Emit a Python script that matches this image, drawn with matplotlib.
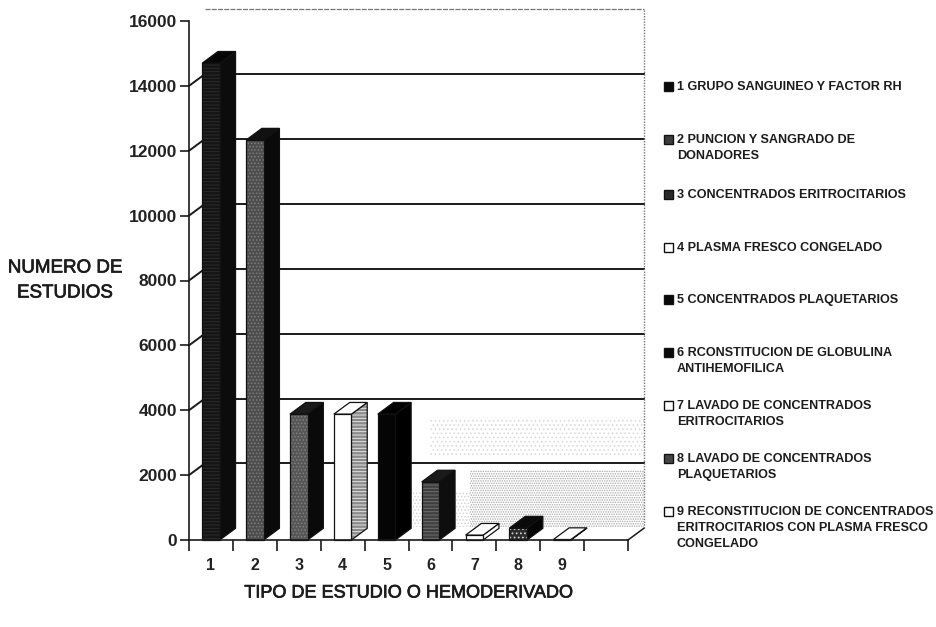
import matplotlib
matplotlib.use('Agg')
import matplotlib.pyplot as plt
import matplotlib.patheffects as pe
from matplotlib.patches import Polygon, Rectangle

plt.rcParams['font.family'] = ['Liberation Sans', 'DejaVu Sans']
plt.rcParams['hatch.linewidth'] = 0.7

# number of studies per type
categories = [1, 2, 3, 4, 5, 6, 7, 8, 9]
valores = [14700, 12330, 3880, 3880, 3880, 1790, 150, 370, 15]
yticks = [0, 2000, 4000, 6000, 8000, 10000, 12000, 14000, 16000]

# front, side, top colours and the hatch for each bar (hatch colour, pattern)
front_cols = ['#141414', '#4e4e4e', '#565656', '#ffffff', '#050505', '#404040', '#ffffff', '#2c2c2c', '#ffffff']
side_cols = ['#0c0c0c', '#0a0a0a', '#0a0a0a', '#8a8a8a', '#000000', '#0e0e0e', '#ffffff', '#050505', '#ffffff']
top_cols = ['#050505', '#111111', '#1a1a1a', '#ffffff', '#000000', '#1a1a1a', '#ffffff', '#0a0a0a', '#ffffff']
front_hatch = [('#2c2c2c', '-----'), ('#7c7c7c', '.....'), ('#808080', '.....'), None, None,
               ('#6e6e6e', '-----'), None, ('#d8d8d8', '....'), None]
side_hatch = [None, None, None, ('#e4e4e4', '-----'), None, None, None, None, None]

legend_items = [
    ['1 GRUPO SANGUINEO Y FACTOR RH'],
    ['2 PUNCION Y SANGRADO DE', 'DONADORES'],
    ['3 CONCENTRADOS ERITROCITARIOS'],
    ['4 PLASMA FRESCO CONGELADO'],
    ['5 CONCENTRADOS PLAQUETARIOS'],
    ['6 RCONSTITUCION DE GLOBULINA', 'ANTIHEMOFILICA'],
    ['7 LAVADO DE CONCENTRADOS', 'ERITROCITARIOS'],
    ['8 LAVADO DE CONCENTRADOS', 'PLAQUETARIOS'],
    ['9 RECONSTITUCION DE CONCENTRADOS', 'ERITROCITARIOS CON PLASMA FRESCO', 'CONGELADO'],
]
legend_y = [87, 140, 195, 248, 300, 353, 406, 459, 512]
legend_cols = ['#0a0a0a', '#3c3c3c', '#2a2a2a', '#ffffff', '#0a0a0a', '#0a0a0a', '#ffffff', '#444444', '#ffffff']

W, H = 937, 627
fig = plt.figure(figsize=(W / 100, H / 100), dpi=100)
ax = fig.add_axes([189 / W, 1 - 540 / H, 439 / W, 519 / H])
ax.set_xlim(0.5, 10.5)
ax.set_ylim(0, 16000)

# depth of the fake 3d box
dx = 0.36
dy = 360
line_col = '#1a1a1a'

# stippled patches on the back wall
stipple = [
    (5.6, 6.9, 400, 1500, '#d4d4d4', '.....'),
    (6.9, 10.5 + dx, 400, 2150, '#a8a8a8', '.......'),
    (6.0, 10.5 + dx, 2550, 3800, '#dadada', '....'),
]
for x0, x1, y0, y1, col, hatch in stipple:
    ax.add_patch(Polygon([(x0, y0), (x1, y0), (x1, y1), (x0, y1)], closed=True,
                         facecolor='white', edgecolor=col, hatch=hatch, lw=0, zorder=1, clip_on=False))

# back wall gridlines and the slanted joins to the axis
for v in yticks[1:-1]:
    ax.plot([0.5 + dx, 10.5 + dx], [v + dy, v + dy], color=line_col, lw=1.4, zorder=2, clip_on=False)
    ax.plot([0.5, 0.5 + dx], [v, v + dy], color=line_col, lw=1.4, zorder=2, clip_on=False)
top = 16000 + dy
ax.plot([0.5 + dx, 10.5 + dx], [top, top], color='#777777', lw=0.9, ls=(0, (4, 1)), zorder=2, clip_on=False)
ax.plot([10.5 + dx, 10.5 + dx], [dy, top], color='#777777', lw=1.0, ls=(0, (1, 1)), zorder=2, clip_on=False)
ax.plot([10.5, 10.5 + dx], [0, dy], color=line_col, lw=1.1, zorder=2, clip_on=False)

# bars: front face, side face and top face
w = 0.2
for i, (c, v) in enumerate(zip(categories, valores)):
    faces = [
        ([(c + w, 0), (c + w + dx, dy), (c + w + dx, v + dy), (c + w, v)], side_cols[i], side_hatch[i]),
        ([(c - w, v), (c + w, v), (c + w + dx, v + dy), (c - w + dx, v + dy)], top_cols[i], None),
        ([(c - w, 0), (c + w, 0), (c + w, v), (c - w, v)], front_cols[i], front_hatch[i]),
    ]
    for pts, col, hatch in faces:
        ax.add_patch(Polygon(pts, closed=True, facecolor=col, edgecolor='none', lw=0, zorder=3, clip_on=False))
        if hatch is not None:
            ax.add_patch(Polygon(pts, closed=True, fill=False, edgecolor=hatch[0], hatch=hatch[1], lw=0,
                                 zorder=3, clip_on=False))
        ax.add_patch(Polygon(pts, closed=True, fill=False, edgecolor='#111111', lw=0.9, zorder=3, clip_on=False))

for side in ['top', 'right']:
    ax.spines[side].set_visible(False)
for side in ['left', 'bottom']:
    ax.spines[side].set_linewidth(1.2)
    ax.spines[side].set_color(line_col)
    ax.spines[side].set_zorder(5)

ax.set_yticks(yticks)
ax.set_yticklabels([str(v) for v in yticks], fontsize=12.5, fontweight='bold', color='#222222')
ax.tick_params(axis='y', length=6.5, width=1.2, pad=2, color=line_col)
ax.set_xticks(categories)
ax.set_xticklabels([str(c) for c in categories], fontsize=11.5, fontweight='bold', color='#222222')
ax.set_xticks([c - 0.5 for c in categories] + [9.5, 10.5], minor=True)
ax.tick_params(axis='x', which='major', length=0, pad=13)
ax.tick_params(axis='x', which='minor', length=8, width=1.2, color=line_col)

# axis titles, placed in pixels from the top left, thickened a little
def put_text(x, y, s, **kw):
    return fig.text(x / W, 1 - y / H, s, va='center', color='#1c1c1c', **kw)

heavy = [pe.withStroke(linewidth=0.5, foreground='#1c1c1c')]
put_text(65, 268, 'NUMERO DE', fontsize=13.5, ha='center', path_effects=heavy)
put_text(65, 293, 'ESTUDIOS', fontsize=13.5, ha='center', path_effects=heavy)
put_text(408, 593, 'TIPO DE ESTUDIO O HEMODERIVADO', fontsize=13, ha='center', path_effects=heavy)

# legend, drawn by hand so the entries keep their uneven spacing
for lines, y0, col in zip(legend_items, legend_y, legend_cols):
    fig.add_artist(Rectangle((664 / W, 1 - (y0 + 4) / H), 9 / W, 9 / H, transform=fig.transFigure,
                             facecolor=col, edgecolor='#111111', lw=1.0))
    for j, line in enumerate(lines):
        put_text(677, y0 + j * 16, line, fontsize=9.1, fontweight='bold', ha='left')

fig.savefig('out.png', dpi=100)
